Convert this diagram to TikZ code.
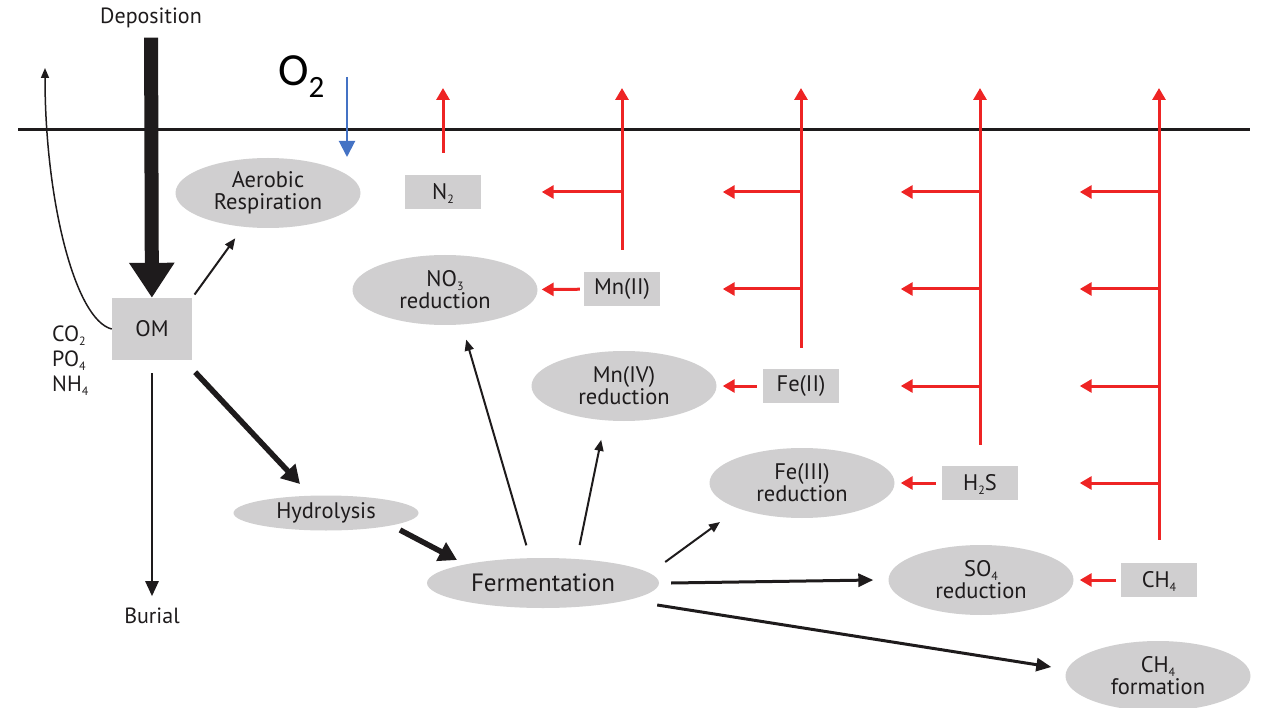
\documentclass[tikz,border=0pt]{standalone}
\usepackage{fontspec}
\setmainfont{PT Sans}
\newfontfamily\carlito{Carlito}
\usetikzlibrary{arrows.meta,shapes.geometric}

\definecolor{boxgray}{RGB}{208,207,208}
\definecolor{inkblack}{RGB}{30,27,28}
\definecolor{fluxred}{RGB}{238,36,36}
\definecolor{oxyblue}{RGB}{68,114,196}

\newcommand{\chemsub}[1]{\smash{\raisebox{-4pt}{\fontsize{12}{12}\selectfont #1}}}

\tikzset{
    process/.style={ellipse, fill=boxgray, inner sep=0pt, align=center, text=inkblack,
        font=\fontsize{22.5}{22}\selectfont, minimum width=185pt, minimum height=70pt},
    species/.style={rectangle, fill=boxgray, inner sep=0pt, text=inkblack,
        font=\fontsize{22.5}{22}\selectfont, minimum width=76pt, minimum height=34pt},
    plaintext/.style={inner sep=2pt, text=inkblack, font=\fontsize{22}{25}\selectfont},
    thinarrow/.style={draw=inkblack, line width=2pt, -{Triangle[width=9pt,length=11pt]}},
    midarrow/.style={draw=inkblack, line width=3pt, -{Triangle[width=13pt,length=15pt]}},
    fatarrow/.style={draw=inkblack, line width=5.5pt, -{Triangle[width=20pt,length=18pt]}},
    redarrow/.style={draw=fluxred, line width=3pt, -{Triangle[width=13pt,length=12pt]}}
}

\begin{document}
\begin{tikzpicture}[x=1pt, y=-1pt]
    \useasboundingbox (0,0) rectangle (1263,708);

    % sediment surface
    \draw[inkblack, line width=3pt] (18,130) -- (1250,130);

    % left column
    \node[plaintext, anchor=base] (depo) at (151,24) {Deposition};
    \node[species, minimum width=80pt, minimum height=62pt] (om) at (152,329) {OM};
    \node[plaintext, anchor=north west, inner sep=0pt, align=left] (nutr) at (52,326)
        {CO\chemsub{2}\\PO\chemsub{4}\\NH\chemsub{4}};
    \node[plaintext, anchor=base] (burial) at (152,623) {Burial};
    \coordinate (release) at (45,68);

    % oxygen
    \node[anchor=base west, inner sep=0pt, text=black] (otwo) at (278,86)
        {\carlito\fontsize{46}{46}\selectfont O\raisebox{-12pt}{\fontsize{31}{31}\selectfont 2}};
    \coordinate (oxin) at (347,77);
    \coordinate (oxout) at (347,157);
    \coordinate (sky) at (0,88);

    % processes
    \node[process] (aer) at (268,193) {Aerobic\\Respiration};
    \node[process, minimum height=35pt] (hydro) at (326,513) {Hydrolysis};
    \node[process, minimum width=232pt, minimum height=50pt, font=\fontsize{25}{25}\selectfont] (ferment) at (543,583) {Fermentation};
    \node[process] (nthree) at (445,290) {NO\chemsub{3}\\reduction};
    \node[process] (mniv) at (624,386) {Mn(IV)\\reduction};
    \node[process] (feiii) at (802,483) {Fe(III)\\reduction};
    \node[process] (sofour) at (981,580) {SO\chemsub{4}\\reduction};
    \node[process] (chform) at (1158,676) {CH\chemsub{4}\\formation};

    % reduced species
    \node[species] (ntwo) at (443,192) {N\chemsub{2}};
    \node[species] (mnii) at (622,289) {Mn(II)};
    \node[species] (feii) at (801,386) {Fe(II)};
    \node[species] (hts) at (980,483) {H\chemsub{2}S};
    \node[species] (chfour) at (1159,580) {CH\chemsub{4}};

    % organic matter flows
    \draw[inkblack, line width=14pt, -{Triangle[width=43pt,length=35pt]}, shorten <=7pt] (depo) -- (om);
    \draw[inkblack, line width=1.5pt, -{Triangle[width=8pt,length=10pt]}]
        (om.west) .. controls (75,320) and (45,200) .. (release);
    \draw[thinarrow, shorten <=4pt, shorten >=14pt] (om.north east) -- (aer);
    \draw[midarrow, line width=2.5pt, shorten <=13pt, shorten >=9pt] (om) -- (burial);
    \draw[fatarrow] ([shift={(3,12)}]om.south east) -- ([shift={(-26,-29)}]hydro.center);
    \draw[fatarrow] ([shift={(74,17)}]hydro.center) -- ([shift={(-86,-23)}]ferment.center);
    \draw[oxyblue, line width=2pt, -{Triangle[width=16pt,length=16pt]}] (oxin) -- (oxout);

    % fermentation products
    \draw[thinarrow, shorten <=13pt, shorten >=15pt] ([xshift=-13pt]ferment.north) -- ([xshift=17pt]nthree.south);
    \draw[thinarrow, shorten <=13pt, shorten >=19pt] ([xshift=34pt]ferment.north) -- ([xshift=-19pt]mniv.south);
    \draw[thinarrow] ([shift={(6,-21)}]ferment.east) -- ([shift={(-82,39)}]feiii.center);
    \draw[midarrow] ([xshift=12pt]ferment.east) -- ([xshift=-15pt]sofour.west);
    \draw[midarrow] ([shift={(-2,22)}]ferment.east) -- ([shift={(-14,-9)}]chform.west);

    % upward fluxes
    \draw[redarrow] ([yshift=22pt]ntwo.north) -- (ntwo |- sky);
    \draw[redarrow] ([yshift=22pt]mnii.north) -- (mnii |- sky);
    \draw[redarrow] ([yshift=21pt]feii.north) -- (feii |- sky);
    \draw[redarrow] ([yshift=21pt]hts.north) -- (hts |- sky);
    \draw[redarrow] ([yshift=23pt]chfour.north) -- (chfour |- sky);

    % reoxidation
    \draw[redarrow, shorten <=4pt, shorten >=4pt] (mnii) -- (nthree);
    \draw[redarrow, shorten <=6pt, shorten >=6pt] (feii) -- (mniv);
    \draw[redarrow, shorten <=6pt, shorten >=6pt] (hts) -- (feiii);
    \draw[redarrow, shorten <=5pt, shorten >=6pt] (chfour) -- (sofour);

    \draw[redarrow, shorten >=4pt] (mnii |- ntwo) -- (nthree.east |- ntwo);
    \draw[redarrow, shorten >=6pt] (feii |- ntwo) -- (mniv.east |- ntwo);
    \draw[redarrow, shorten >=6pt] (feii |- mnii) -- (mniv.east |- mnii);
    \draw[redarrow, shorten >=6pt] (hts |- ntwo) -- (feiii.east |- ntwo);
    \draw[redarrow, shorten >=6pt] (hts |- mnii) -- (feiii.east |- mnii);
    \draw[redarrow, shorten >=6pt] (hts |- feii) -- (feiii.east |- feii);
    \draw[redarrow, shorten >=6pt] (chfour |- ntwo) -- (sofour.east |- ntwo);
    \draw[redarrow, shorten >=6pt] (chfour |- mnii) -- (sofour.east |- mnii);
    \draw[redarrow, shorten >=6pt] (chfour |- feii) -- (sofour.east |- feii);
    \draw[redarrow, shorten >=6pt] (chfour |- hts) -- (sofour.east |- hts);
\end{tikzpicture}
\end{document}
